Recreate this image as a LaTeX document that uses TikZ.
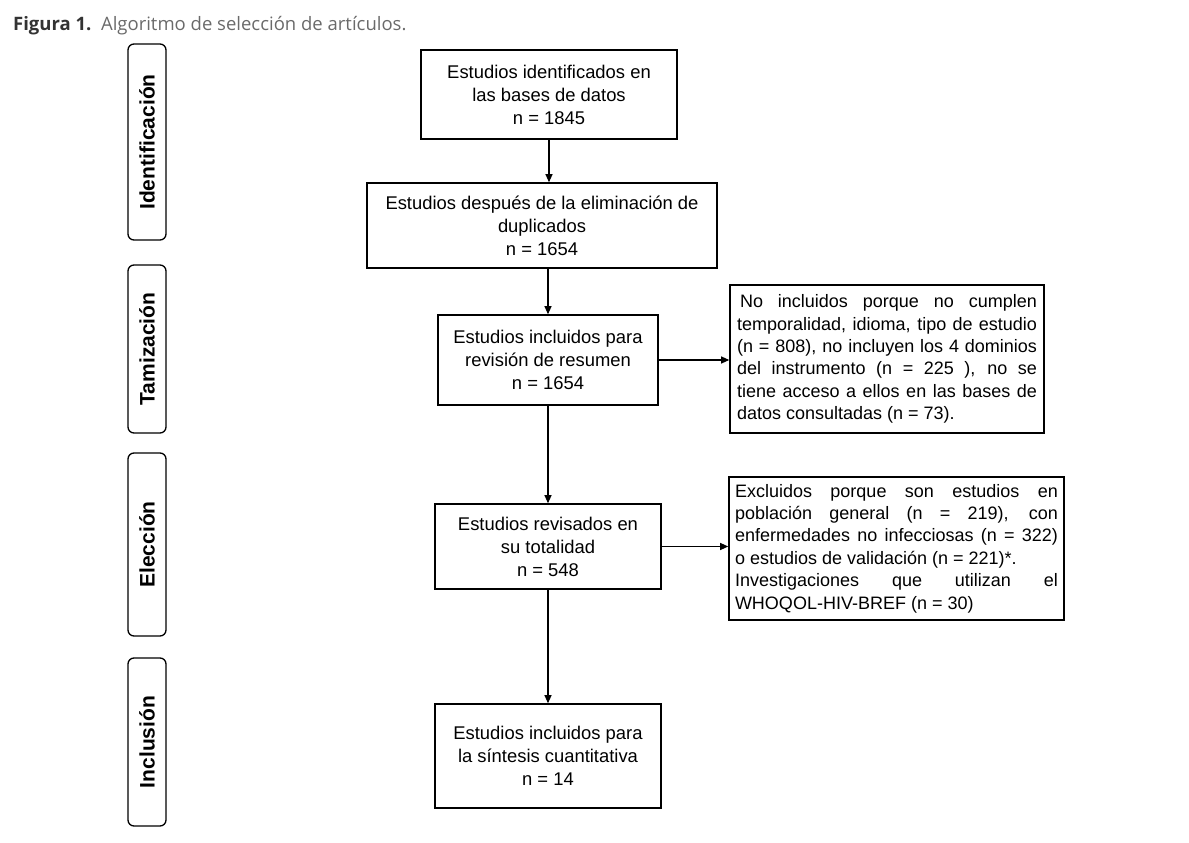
\documentclass[tikz,border=0pt]{standalone}
\usepackage{fontspec}
\setmainfont{Liberation Sans}
\newfontfamily\capfont{Open Sans}
\usetikzlibrary{arrows.meta}
\definecolor{capdark}{HTML}{333333}
\definecolor{caplight}{HTML}{6A6A6A}
\newcommand\jA[1]{\makebox[300pt][s]{#1}}
\newcommand\lA[1]{\makebox[300pt][l]{#1}}
\newcommand\jB[1]{\makebox[323pt][s]{#1}}
\newcommand\lB[1]{\makebox[323pt][l]{#1}}
\begin{document}
\begin{tikzpicture}[x=1pt,y=-1pt,
  mainbox/.style={draw,line width=1.6pt,inner sep=0pt,align=center,
    font=\fontsize{18.4}{23}\selectfont},
  sidebox/.style={draw,line width=1.6pt,inner sep=0pt,align=left,
    font=\fontsize{18}{22.4}\selectfont},
  phase/.style={draw,line width=1.3pt,rounded corners=6pt,inner sep=0pt,
    minimum width=38pt,font=\fontsize{21}{24}\selectfont\bfseries},
  arr/.style={line width=1.1pt,-{Triangle[length=8pt,width=7pt]}}]
\useasboundingbox (0,0) rectangle (1189,843);
% caption
\node[anchor=base west,inner sep=0pt,font=\capfont\fontsize{18.5}{22}\selectfont] (cap) at (13,31)
  {\textcolor{capdark}{\bfseries Figura 1.}\ \ \textcolor{caplight}{Algoritmo de selección de artículos.}};
% phases
\node[phase,minimum height=196pt] (p1) at (147,142) {\rotatebox{90}{Identificación}};
\node[phase,minimum height=168pt] (p2) at (147,349) {\rotatebox{90}{Tamización}};
\node[phase,minimum height=183pt] (p3) at (147,544.5) {\rotatebox{90}{Elección}};
\node[phase,minimum height=168pt] (p4) at (147,742) {\rotatebox{90}{Inclusión}};
% main boxes
\node[mainbox,minimum width=256pt,minimum height=89pt] (b1) at (549,94.5)
  {Estudios identificados en\\las bases de datos\\n = 1845};
\node[mainbox,minimum width=350pt,minimum height=85pt] (b2) at (542,225.5)
  {Estudios después de la eliminación de\\duplicados\\n = 1654};
\node[mainbox,minimum width=220pt,minimum height=90pt] (b3) at (548,360)
  {Estudios incluidos para\\revisión de resumen\\n = 1654};
\node[mainbox,minimum width=226pt,minimum height=85pt] (b4) at (548,546.5)
  {Estudios revisados en\\su totalidad\\n = 548};
\node[mainbox,minimum width=226pt,minimum height=104pt] (b5) at (548,756)
  {Estudios incluidos para\\la síntesis cuantitativa\\n = 14};
% side boxes
\node[sidebox,minimum width=314pt,minimum height=148pt] (sa) at (887,359)
  {\jA{\hspace{3pt}No incluidos porque no cumplen}\\
   \jA{temporalidad, idioma, tipo de estudio}\\
   \jA{(n = 808), no incluyen los 4 dominios}\\
   \jA{del instrumento (n = 225 ), no se}\\
   \jA{tiene acceso a ellos en las bases de}\\
   \lA{datos consultadas (n = 73).}};
\node[sidebox,minimum width=335pt,minimum height=143pt] (sb) at (896.5,548.5)
  {\jB{Excluidos porque son estudios en}\\
   \jB{población general (n = 219), con}\\
   \jB{enfermedades no infecciosas (n = 322)}\\
   \lB{o estudios de validación (n = 221)*.}\\
   \jB{Investigaciones que utilizan el}\\
   \lB{WHOQOL-HIV-BREF (n = 30)}};
% arrows
\draw[arr] (b1.south) -- (b1.south |- b2.north);
\draw[arr] (b2.south -| b3.north) -- (b3.north);
\draw[arr] (b3.south) -- (b4.north);
\draw[arr] (b4.south) -- (b5.north);
\draw[arr] (b3.east) -- (b3.east -| sa.west);
\draw[arr] (b4.east) -- (b4.east -| sb.west);
\end{tikzpicture}
\end{document}
